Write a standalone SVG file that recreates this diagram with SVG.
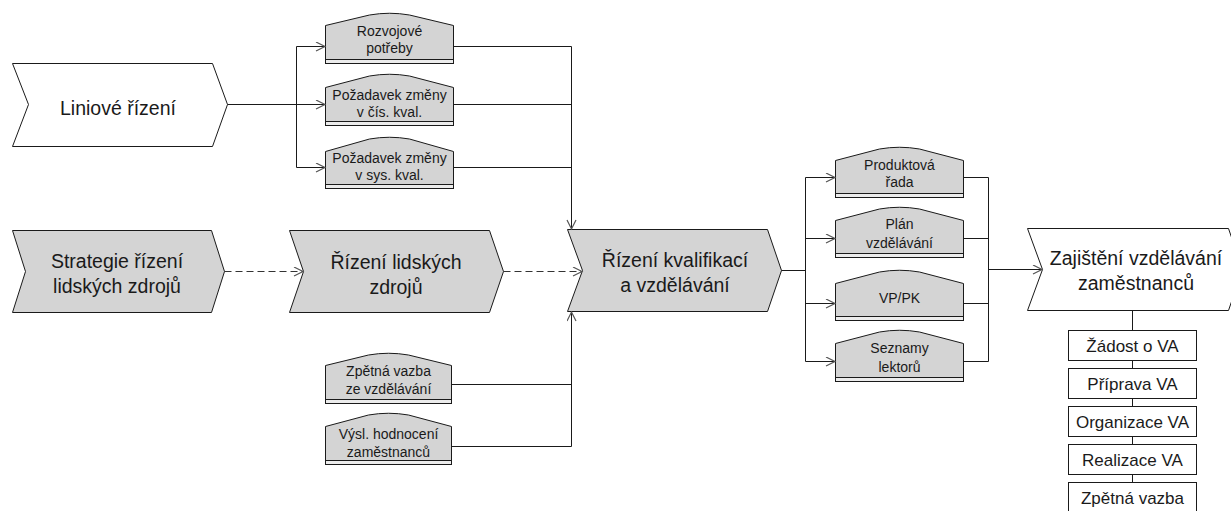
<svg xmlns="http://www.w3.org/2000/svg" width="1231" height="511" viewBox="0 0 1231 511">
  <style>
    .chev { stroke: #1a1a1a; stroke-width: 1; stroke-linejoin: miter; }
    .grey { fill: #d4d4d4; }
    .white { fill: #ffffff; }
    .doc { fill: #d4d4d4; stroke: #1a1a1a; stroke-width: 1; }
    .strip { fill: #ececec; stroke: #1a1a1a; stroke-width: 1; }
    .big { font-family: "Liberation Sans", Arial, sans-serif; font-size: 19.5px; fill: #1a1a1a; text-anchor: middle; }
    .small { font-family: "Liberation Sans", Arial, sans-serif; font-size: 14px; fill: #1a1a1a; text-anchor: middle; }
    .task { font-family: "Liberation Sans", Arial, sans-serif; font-size: 17px; fill: #1a1a1a; text-anchor: middle; }
    .box { fill: #ffffff; stroke: #1a1a1a; stroke-width: 1; }
    .wire { fill: none; stroke: #1a1a1a; stroke-width: 1; }
    .dash { fill: none; stroke: #333333; stroke-width: 1.2; stroke-dasharray: 7 4; }
  </style>
  <defs>
    <marker id="arrow" markerUnits="userSpaceOnUse" markerWidth="12" markerHeight="12" refX="10" refY="5" orient="auto">
      <path d="M1,0.5 L10,5 L1,9.5" fill="none" stroke="#555555" stroke-width="1.2"/>
    </marker>
  </defs>

  <!-- process chevrons -->
  <g id="linove-rizeni">
    <path class="chev white" d="M12.5,63.5 L212.5,63.5 L227.5,104.5 L212.5,146.5 L12.5,146.5 L28.5,104.5 Z"/>
    <text class="big" x="118" y="115">Liniové řízení</text>
  </g>
  <g id="strategie-rlz">
    <path class="chev grey" d="M12.5,230.5 L211.5,230.5 L224.5,271.5 L211.5,312.5 L12.5,312.5 L25.5,271.5 Z"/>
    <text class="big" x="117" y="268">Strategie řízení</text>
    <text class="big" x="117" y="293">lidských zdrojů</text>
  </g>
  <g id="rizeni-lz">
    <path class="chev grey" d="M289.5,230.5 L489.5,230.5 L503.5,271.5 L489.5,312.5 L289.5,312.5 L303.5,271.5 Z"/>
    <text class="big" x="396" y="269">Řízení lidských</text>
    <text class="big" x="396" y="294">zdrojů</text>
  </g>
  <g id="rizeni-kvalifikaci">
    <path class="chev grey" d="M567.5,229.5 L767.5,229.5 L781.5,270.5 L767.5,311.5 L567.5,311.5 L582.5,270.5 Z"/>
    <text class="big" x="675" y="267">Řízení kvalifikací</text>
    <text class="big" x="675" y="292">a vzdělávání</text>
  </g>
  <g id="zajisteni-vzdelavani">
    <path class="chev white" d="M1027.5,228.5 L1228.5,228.5 L1242.5,269.5 L1228.5,310.5 L1027.5,310.5 L1042.5,269.5 Z"/>
    <text class="big" x="1136" y="265">Zajištění vzdělávání</text>
    <text class="big" x="1136" y="290">zaměstnanců</text>
  </g>

  <!-- information objects (documents) -->
  <g id="doc-rozvojove">
    <path class="doc" d="M325.5,63.5 L325.5,25.5 L369.5,15 Q389.5,11.5 409.5,15 L453.5,25.5 L453.5,63.5 Z"/>
    <rect class="strip" x="325.5" y="59.5" width="128" height="4"/>
    <text class="small" x="389.5" y="36">Rozvojové</text>
    <text class="small" x="389.5" y="53">potřeby</text>
  </g>
  <g id="doc-pozadavek-cis">
    <path class="doc" d="M325.5,125.5 L325.5,87.5 L369.5,76 Q389.5,72.5 409.5,76 L453.5,87.5 L453.5,125.5 Z"/>
    <rect class="strip" x="325.5" y="121.5" width="128" height="4"/>
    <text class="small" x="389.5" y="100">Požadavek změny</text>
    <text class="small" x="389.5" y="117">v čís. kval.</text>
  </g>
  <g id="doc-pozadavek-sys">
    <path class="doc" d="M325.5,188.5 L325.5,151.5 L369.5,139 Q389.5,135.5 409.5,139 L453.5,151.5 L453.5,188.5 Z"/>
    <rect class="strip" x="325.5" y="184.5" width="128" height="4"/>
    <text class="small" x="389.5" y="163">Požadavek změny</text>
    <text class="small" x="389.5" y="180">v sys. kval.</text>
  </g>
  <g id="doc-zpetna-vazba">
    <path class="doc" d="M325.5,403.5 L325.5,365.5 L368.5,355 Q388.5,351.5 408.5,355 L451.5,365.5 L451.5,403.5 Z"/>
    <rect class="strip" x="325.5" y="399.5" width="126" height="4"/>
    <text class="small" x="388.5" y="376">Zpětná vazba</text>
    <text class="small" x="388.5" y="394">ze vzdělávání</text>
  </g>
  <g id="doc-hodnoceni">
    <path class="doc" d="M325.5,464.5 L325.5,426.5 L368.5,415 Q388.5,411.5 408.5,415 L451.5,426.5 L451.5,464.5 Z"/>
    <rect class="strip" x="325.5" y="460.5" width="126" height="4"/>
    <text class="small" x="388.5" y="439">Výsl. hodnocení</text>
    <text class="small" x="388.5" y="457">zaměstnanců</text>
  </g>
  <g id="doc-produktova-rada">
    <path class="doc" d="M835.5,197.5 L835.5,160.5 L879.5,149 Q899.5,145.5 919.5,149 L963.5,160.5 L963.5,197.5 Z"/>
    <rect class="strip" x="835.5" y="193.5" width="128" height="4"/>
    <text class="small" x="899.5" y="170">Produktová</text>
    <text class="small" x="899.5" y="187">řada</text>
  </g>
  <g id="doc-plan-vzdelavani">
    <path class="doc" d="M835.5,257.5 L835.5,220.5 L879.5,209 Q899.5,205.5 919.5,209 L963.5,220.5 L963.5,257.5 Z"/>
    <rect class="strip" x="835.5" y="253.5" width="128" height="4"/>
    <text class="small" x="899.5" y="229">Plán</text>
    <text class="small" x="899.5" y="248">vzdělávání</text>
  </g>
  <g id="doc-vp-pk">
    <path class="doc" d="M835.5,320.5 L835.5,283.5 L879.5,272 Q899.5,268.5 919.5,272 L963.5,283.5 L963.5,320.5 Z"/>
    <rect class="strip" x="835.5" y="316.5" width="128" height="4"/>
    <text class="small" x="899.5" y="303">VP/PK</text>
  </g>
  <g id="doc-seznamy-lektoru">
    <path class="doc" d="M835.5,381.5 L835.5,343.5 L879.5,332 Q899.5,328.5 919.5,332 L963.5,343.5 L963.5,381.5 Z"/>
    <rect class="strip" x="835.5" y="377.5" width="128" height="4"/>
    <text class="small" x="899.5" y="353">Seznamy</text>
    <text class="small" x="899.5" y="372">lektorů</text>
  </g>

  <!-- sub-steps of Zajištění vzdělávání -->
  <g id="step-zadost">
    <rect class="box" x="1068.5" y="330.5" width="128" height="30"/>
    <text class="task" x="1132.5" y="352">Žádost o VA</text>
  </g>
  <g id="step-priprava">
    <rect class="box" x="1068.5" y="368.5" width="128" height="30"/>
    <text class="task" x="1132.5" y="390">Příprava VA</text>
  </g>
  <g id="step-organizace">
    <rect class="box" x="1068.5" y="406.5" width="128" height="30"/>
    <text class="task" x="1132.5" y="428">Organizace VA</text>
  </g>
  <g id="step-realizace">
    <rect class="box" x="1068.5" y="444.5" width="128" height="30"/>
    <text class="task" x="1132.5" y="466">Realizace VA</text>
  </g>
  <g id="step-zpetna-vazba">
    <rect class="box" x="1068.5" y="482.5" width="128" height="30"/>
    <text class="task" x="1132.5" y="504">Zpětná vazba</text>
  </g>

  <!-- connectors -->
  <g id="connectors">
    <!-- Liniové řízení to its three outputs -->
    <path class="wire" d="M227.5,104.5 H296.5"/>
    <path class="wire" d="M296.5,46.5 V167.5"/>
    <path class="wire" d="M296.5,46.5 H325" marker-end="url(#arrow)"/>
    <path class="wire" d="M296.5,104.5 H325" marker-end="url(#arrow)"/>
    <path class="wire" d="M296.5,167.5 H325" marker-end="url(#arrow)"/>
    <!-- top documents into Řízení kvalifikací -->
    <path class="wire" d="M453.5,46.5 H571.5"/>
    <path class="wire" d="M453.5,104.5 H571.5"/>
    <path class="wire" d="M453.5,167.5 H571.5"/>
    <path class="wire" d="M571.5,46.5 V229" marker-end="url(#arrow)"/>
    <!-- bottom documents into Řízení kvalifikací -->
    <path class="wire" d="M451.5,384.5 H571.5"/>
    <path class="wire" d="M451.5,446.5 H571.5 V312" marker-end="url(#arrow)"/>
    <!-- process chain -->
    <path class="dash" d="M224.5,271.5 H303" marker-end="url(#arrow)"/>
    <path class="dash" d="M503.5,271.5 H582" marker-end="url(#arrow)"/>
    <!-- Řízení kvalifikací to its outputs -->
    <path class="wire" d="M781.5,270.5 H805.5"/>
    <path class="wire" d="M805.5,177.5 V361.5"/>
    <path class="wire" d="M805.5,177.5 H835" marker-end="url(#arrow)"/>
    <path class="wire" d="M805.5,238.5 H835" marker-end="url(#arrow)"/>
    <path class="wire" d="M805.5,303.5 H835" marker-end="url(#arrow)"/>
    <path class="wire" d="M805.5,361.5 H835" marker-end="url(#arrow)"/>
    <!-- outputs into Zajištění vzdělávání -->
    <path class="wire" d="M963.5,177.5 H988.5"/>
    <path class="wire" d="M963.5,238.5 H988.5"/>
    <path class="wire" d="M963.5,303.5 H988.5"/>
    <path class="wire" d="M963.5,361.5 H988.5"/>
    <path class="wire" d="M988.5,177.5 V361.5"/>
    <path class="wire" d="M988.5,269.5 H1042" marker-end="url(#arrow)"/>
    <!-- step chain -->
    <path class="wire" d="M1132.5,310.5 V330.5"/>
    <path class="wire" d="M1132.5,360.5 V368.5"/>
    <path class="wire" d="M1132.5,398.5 V406.5"/>
    <path class="wire" d="M1132.5,436.5 V444.5"/>
    <path class="wire" d="M1132.5,474.5 V482.5"/>
  </g>
</svg>
